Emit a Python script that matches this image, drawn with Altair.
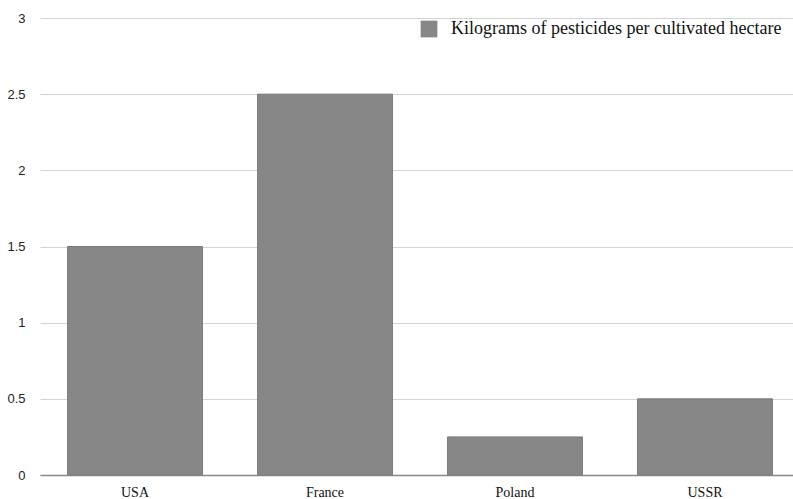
import altair as alt
import pandas as pd

countries = ["USA", "France", "Poland", "USSR"]
kg_per_hectare = [1.5, 2.5, 0.25, 0.5]
series_name = "Kilograms of pesticides per cultivated hectare"

df = pd.DataFrame({
    "country": countries,
    "value": kg_per_hectare,
    "series": [series_name] * len(countries),
})

bars = alt.Chart(df).mark_bar(
    color="#878787", stroke="#7a7a7a", strokeWidth=1
).encode(
    x=alt.X(
        "country:N",
        sort=countries,
        title=None,
        scale=alt.Scale(paddingInner=0.29, paddingOuter=0.145, range=[0, 760]),
        axis=alt.Axis(
            labelAngle=0,
            labelFont="Liberation Serif",
            labelFontSize=14,
            labelColor="#111111",
            labelPadding=10,
            ticks=False,
            domainColor="#8a8a8a",
            domainWidth=1.5,
        ),
    ),
    y=alt.Y(
        "value:Q",
        title=None,
        scale=alt.Scale(domain=[0, 3], nice=False),
        axis=alt.Axis(
            values=[0, 0.5, 1, 1.5, 2, 2.5, 3],
            format="~g",
            labelFont="Liberation Sans",
            labelFontSize=13,
            labelColor="#222222",
            labelPadding=15,
            ticks=False,
            domain=False,
            gridColor="#d4d4d4",
            gridWidth=1,
        ),
    ),
    fill=alt.Fill(
        "series:N",
        scale=alt.Scale(range=["#878787"]),
        legend=alt.Legend(
            title=None,
            orient="none",
            legendX=380,
            legendY=2,
            symbolType="square",
            symbolSize=280,
            symbolStrokeWidth=0,
            labelFont="Liberation Serif",
            labelFontSize=18,
            labelColor="#111111",
            labelOffset=13,
            labelLimit=0,
        ),
    ),
)

chart = bars.properties(
    width=753,
    height=457,
    padding={"left": 40, "top": 18, "right": 0, "bottom": 24},
    autosize=alt.AutoSizeParams(type="none"),
    background="white",
).configure_view(stroke=None)

chart.save("out.html", embed_options={"renderer": "svg", "actions": False})
